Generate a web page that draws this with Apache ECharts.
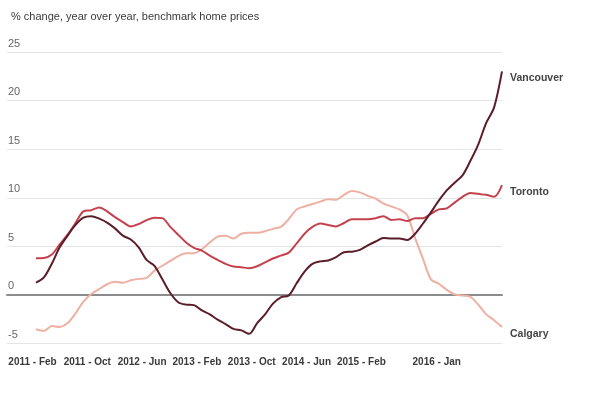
<!DOCTYPE html>
<html>
<head>
<meta charset="utf-8">
<script src="https://cdn.jsdelivr.net/npm/echarts@6/dist/echarts.min.js"></script>
<style>html,body{margin:0;padding:0;background:#fff;}#c{width:600px;height:400px;}</style>
</head>
<body>
<div id="c"></div>
<script>
// Monthly values, Feb 2011 .. Jan 2016 (60 months)
const seriesNames = ['Calgary', 'Toronto', 'Vancouver'];
const calgary = [-3.54,-3.7,-3.2,-3.3,-2.9,-1.9,-0.7,0.1,0.6,1.1,1.35,1.25,1.5,1.65,1.75,2.5,3.0,3.5,4.0,4.3,4.3,4.7,5.4,6.0,6.1,5.8,6.3,6.4,6.4,6.55,6.8,7.0,7.8,8.8,9.1,9.35,9.6,9.85,9.8,10.3,10.7,10.55,10.2,9.9,9.4,9.1,8.8,8.2,5.84,3.7,1.6,1.15,0.52,0.05,-0.07,-0.2,-1.0,-2.0,-2.6,-3.3];
const toronto = [3.78,3.8,4.15,5.2,6.2,7.4,8.6,8.72,9.0,8.6,8.0,7.5,7.05,7.3,7.7,7.95,7.9,7.0,6.2,5.4,4.85,4.55,4.05,3.6,3.2,2.92,2.85,2.75,2.95,3.35,3.75,4.05,4.35,5.3,6.3,7.0,7.35,7.2,7.05,7.4,7.8,7.8,7.8,7.9,8.1,7.7,7.8,7.6,7.9,7.9,8.35,8.8,8.9,9.5,10.1,10.5,10.4,10.3,10.1,11.3];
const vancouver = [1.27,1.8,3.2,4.9,6.1,7.2,7.95,8.1,7.85,7.45,6.85,6.1,5.7,4.9,3.6,3.0,1.6,0.2,-0.75,-1.0,-1.05,-1.6,-2.0,-2.55,-3.0,-3.5,-3.65,-4.0,-2.9,-2.0,-0.9,-0.25,-0.05,1.2,2.4,3.2,3.45,3.55,3.9,4.4,4.45,4.64,5.1,5.5,5.85,5.8,5.8,5.65,6.3,7.35,8.5,9.7,10.75,11.55,12.3,13.8,15.5,17.7,19.3,23.0];
const tickLabels = ['2011 - Feb','2011 - Oct','2012 - Jun','2013 - Feb','2013 - Oct','2014 - Jun','2015 - Feb','2016 - Jan'];
const tickMonths = [0, 8, 16, 24, 32, 40, 48, 59];
const yTicks = [-5, 0, 5, 10, 15, 20, 25];
const subtitle = '% change, year over year, benchmark home prices';

const colors = { Calgary: '#eeb0a1', Toronto: '#c4424d', Vancouver: '#5a1d29' };
const values = { Calgary: calgary, Toronto: toronto, Vancouver: vancouver };
const nMonths = vancouver.length;
const labelCats = Array.from({length: nMonths}, (_, i) => {
  const k = tickMonths.indexOf(i);
  return k >= 0 ? tickLabels[k] : '';
});
const FONT = 'Liberation Sans, Arial, sans-serif';

const chart = echarts.init(document.getElementById('c'), null, {renderer: 'canvas'});
chart.setOption({
  animation: false,
  backgroundColor: '#fff',
  textStyle: { fontFamily: FONT },
  title: {
    text: subtitle, left: 6, top: 6,
    textStyle: { fontSize: 11, fontWeight: 'normal', color: '#3a3a3a', fontFamily: FONT }
  },
  grid: [
    { left: 7, right: 98, top: 52, bottom: 56.5, containLabel: false },
    { left: 32.5, right: 163.3, top: 340, height: 10, containLabel: false }
  ],
  xAxis: [
    {
      type: 'value', gridIndex: 0, min: -3.672, max: nMonths - 1,
      axisLine: { show: true, onZero: true, lineStyle: { color: '#8c8c8c', width: 2 } },
      axisTick: { show: false }, axisLabel: { show: false }, splitLine: { show: false }
    },
    {
      type: 'category', gridIndex: 1, data: labelCats, boundaryGap: false,
      axisLine: { show: false }, axisTick: { show: false }, splitLine: { show: false },
      axisLabel: { interval: 0, margin: 7, fontSize: 10, fontWeight: 'bold', color: '#3a3a3a', fontFamily: FONT }
    }
  ],
  yAxis: [
    {
      type: 'value', gridIndex: 0, min: yTicks[0], max: yTicks[yTicks.length - 1], interval: 5,
      axisLine: { show: false }, axisTick: { show: false },
      axisLabel: { inside: true, margin: 1, align: 'left', verticalAlign: 'bottom', padding: [0, 0, 3, 0], fontSize: 11, color: '#666', fontFamily: FONT },
      splitLine: { show: true, lineStyle: { color: '#e4e4e4', width: 1 } }
    },
    { type: 'value', gridIndex: 1, show: false }
  ],
  series: seriesNames.map(name => ({
    name, type: 'line', xAxisIndex: 0, yAxisIndex: 0,
    data: values[name].map((v, i) => [i, v]),
    showSymbol: false, smooth: 0.3,
    lineStyle: { color: colors[name], width: 2 },
    itemStyle: { color: colors[name] },
    endLabel: {
      show: true, formatter: name, distance: 8, offset: [0, 7],
      fontSize: 10.5, fontWeight: 'bold', color: '#444', fontFamily: FONT
    }
  }))
});
</script>
</body>
</html>
